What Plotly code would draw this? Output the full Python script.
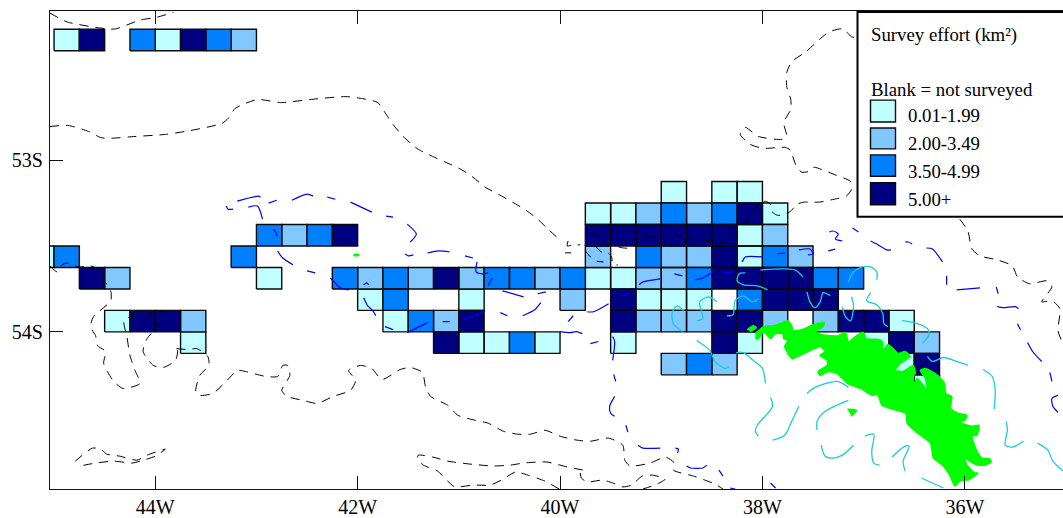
import plotly.graph_objects as go

# ---------- survey effort grid ----------
# (south latitude, north latitude, west longitude of first cell, effort classes)
# L 0.01-1.99, M 2.00-3.49, B 3.50-4.99, D 5.00+, . not surveyed
effort_rows = [
    (-52.364, -52.239, -45.00, "LD.BLDBM"),
    (-53.250, -53.125, -39.00, "L.LL"),
    (-53.375, -53.250, -39.75, "LLMBMBDL"),
    (-53.500, -53.375, -43.00, "BMBD"),
    (-53.500, -53.375, -39.75, "DDDDDDLM"),
    (-53.625, -53.500, -45.25, "LB"),
    (-53.625, -53.500, -43.25, "B"),
    (-53.625, -53.500, -39.75, "M.BMMDLBM"),
    (-53.750, -53.625, -44.75, "DM"),
    (-53.750, -53.625, -43.00, "L"),
    (-53.750, -53.625, -42.25, "BMBMDMBBMBLLMMBDDDDBB"),
    (-53.875, -53.750, -42.00, "LB..L...M.DLLL.BDDD"),
    (-54.000, -53.875, -44.50, "LDDM"),
    (-54.000, -53.875, -41.75, "LBMD"),
    (-54.000, -53.875, -39.50, "DMMMDDM.MDDL"),
    (-54.125, -54.000, -43.75, "L"),
    (-54.125, -54.000, -41.25, "DLLBL"),
    (-54.125, -54.000, -39.50, "L"),
    (-54.125, -54.000, -38.50, "DL"),
    (-54.125, -54.000, -37.00, "LDM"),
    (-54.250, -54.125, -39.00, "MBM"),
    (-54.250, -54.125, -36.75, "LD"),
    (-54.375, -54.250, -36.50, "L"),
]
class_codes = ["L", "M", "B", "D"]
class_labels = ["0.01-1.99", "2.00-3.49", "3.50-4.99", "5.00+"]
class_colors = ["#BFFFFF", "#80C8FF", "#0080FF", "#000080"]

x_ticks = [-44, -42, -40, -38, -36]
x_labels = ["44W", "42W", "40W", "38W", "36W"]
y_ticks = [-54, -53]
y_labels = ["54S", "53S"]

# ---------- 200 m style contour (dashed black) ----------
black_lon = [
    -45.04,-44.87,-44.54,-44.40,-44.15,-43.98,-43.82,None,
    -45.04,-44.86,-44.66,-44.54,-44.46,-44.20,-43.90,-43.65,-43.34,-43.28,-43.21,-42.99,-42.76,-42.47,-42.12,-41.95,-41.80,-41.73,-41.65,-41.55,-41.40,-41.26,-41.13,-40.98,-40.86,-40.74,-40.61,-40.47,-40.34,-40.22,-40.12,-40.00,None,
    -39.92,-39.93,-39.87,-39.80,None,
    -39.95,-39.89,None,
    -39.70,-39.65,-39.59,-39.51,-39.42,-39.37,-39.29,-39.26,-39.22,-39.16,-39.07,-38.99,-38.92,-38.86,-38.81,-38.74,-38.62,-38.57,-38.44,-38.37,-38.36,-38.32,-38.24,-38.17,-38.12,-38.09,-38.04,-37.97,-37.92,-37.91,-37.86,-37.79,-37.72,-37.66,-37.59,-37.44,-37.29,-37.17,-37.12,-37.13,-37.27,-37.42,-37.49,-37.54,-37.61,-37.66,-37.70,-37.71,-37.77,-37.99,-38.12,-38.22,-38.17,-38.04,-37.81,-37.76,-37.79,-37.72,-37.72,-37.76,-37.76,-37.71,-37.57,-37.44,-37.34,-37.22,-37.17,-37.12,-36.90,None,
    -39.75,-39.70,-39.65,-39.57,None,
    -39.65,-39.59,-39.54,-39.49,-39.48,-39.43,None,
    -36.05,-35.97,-35.93,-35.85,-35.68,-35.53,-35.48,-35.36,-35.19,-35.14,-35.24,-35.14,-35.06,-35.08,-35.04,None,
    -45.04,-44.97,-44.92,-44.87,-44.76,-44.64,-44.59,-44.54,-44.44,-44.44,-44.61,-44.64,-44.59,-44.57,-44.49,-44.51,-44.41,-44.32,-44.15,-44.20,-44.25,-44.28,-44.31,-44.25,-44.08,-43.93,-43.90,-44.00,-44.08,-44.12,-44.02,-43.92,-43.80,-43.78,-43.82,-43.67,-43.59,-43.48,-43.47,-43.56,-43.60,-43.56,-43.43,-43.29,-43.19,-43.11,-42.91,-42.79,-42.74,-42.69,-42.67,-42.75,-42.70,-42.54,-42.40,-42.24,-42.07,-42.02,-42.09,-41.97,-41.86,-41.76,-41.58,-41.48,-41.36,-41.33,-41.28,-41.11,-41.01,-40.84,-40.71,-40.56,-40.42,-40.29,-40.15,-40.00,-39.83,-39.70,-39.52,-39.38,-39.36,-39.31,-39.11,-38.96,-38.88,-38.88,-38.68,-38.47,-38.39,None,
    -44.79,-44.62,-44.54,-44.48,-44.35,-44.18,-44.08,-43.90,-44.00,-44.15,-44.23,-44.41,-44.59,-44.74,None,
    -40.01,-40.15,-40.32,-40.44,-40.56,-40.69,-40.86,-41.04,-41.11,-41.21,-41.35,-41.41,-41.40,-41.26,-41.11,-40.89,-40.66,-40.49,-40.36,-40.13,-39.93,-39.77,None,
    -39.80,-39.79,-39.73,-39.58,-39.48,-39.38,-39.29,-39.19,-39.09,-38.96,-39.04,-39.18,
]
black_lat = [
    -52.145,-52.197,-52.232,-52.238,-52.186,-52.169,-52.140,None,
    -52.805,-52.799,-52.834,-52.869,-52.874,-52.863,-52.851,-52.828,-52.787,-52.758,-52.700,-52.648,-52.666,-52.648,-52.631,-52.643,-52.666,-52.724,-52.793,-52.863,-52.938,-52.979,-53.013,-53.054,-53.100,-53.158,-53.199,-53.245,-53.291,-53.344,-53.402,-53.465,None,
    -53.471,-53.500,-53.494,-53.494,None,
    -53.540,-53.540,None,
    -53.430,-53.430,-53.459,-53.494,-53.506,-53.512,-53.512,-53.494,-53.449,-53.437,-53.459,-53.477,-53.453,-53.437,-53.443,-53.459,-53.465,-53.465,-53.477,-53.477,-53.443,-53.402,-53.385,-53.356,-53.332,-53.303,-53.257,-53.240,-53.257,-53.297,-53.320,-53.320,-53.297,-53.257,-53.245,-53.245,-53.228,-53.210,-53.170,-53.124,-53.089,-53.054,-53.042,-53.066,-53.071,-53.042,-52.979,-52.950,-52.927,-52.932,-52.909,-52.851,-52.810,-52.863,-52.880,-52.863,-52.782,-52.706,-52.648,-52.573,-52.492,-52.428,-52.370,-52.300,-52.254,-52.237,-52.254,-52.283,-52.300,None,
    -53.529,-53.564,-53.587,-53.593,None,
    -53.500,-53.535,-53.535,-53.564,-53.605,-53.611,None,
    -53.344,-53.413,-53.518,-53.558,-53.581,-53.616,-53.680,-53.720,-53.703,-53.738,-53.825,-53.819,-53.865,-53.992,-54.056,None,
    -53.616,-53.651,-53.610,-53.599,-53.622,-53.616,-53.628,-53.674,-53.761,-53.819,-53.911,-53.970,-54.022,-54.080,-54.114,-54.184,-54.288,-54.329,-54.300,-54.224,-54.137,-54.027,-53.940,-53.911,-53.906,-53.877,-53.894,-53.981,-54.039,-54.114,-54.195,-54.207,-54.166,-54.108,-54.097,-54.103,-54.097,-54.143,-54.195,-54.253,-54.346,-54.369,-54.358,-54.282,-54.224,-54.230,-54.259,-54.259,-54.195,-54.195,-54.253,-54.340,-54.375,-54.398,-54.416,-54.375,-54.340,-54.282,-54.224,-54.195,-54.213,-54.277,-54.219,-54.207,-54.236,-54.317,-54.375,-54.427,-54.485,-54.514,-54.531,-54.578,-54.595,-54.595,-54.572,-54.607,-54.630,-54.636,-54.618,-54.659,-54.746,-54.780,-54.763,-54.728,-54.757,-54.804,-54.839,-54.885,-54.914,None,
    -54.752,-54.676,-54.682,-54.711,-54.723,-54.746,-54.717,-54.682,-54.723,-54.752,-54.763,-54.752,-54.763,-54.780,None,
    -54.914,-54.868,-54.833,-54.815,-54.856,-54.891,-54.891,-54.902,-54.868,-54.810,-54.775,-54.734,-54.717,-54.728,-54.752,-54.769,-54.780,-54.775,-54.763,-54.757,-54.786,-54.804,None,
    -54.821,-54.850,-54.873,-54.862,-54.879,-54.902,-54.891,-54.839,-54.833,-54.856,-54.885,-54.914,
]

# ---------- deeper contour fragments (blue) ----------
blue_lon = [
    -43.30,-43.28,-43.23,None,-43.19,-42.98,-42.96,None,-43.08,-42.99,-42.94,None,-42.88,-42.80,None,-42.65,-42.50,-42.44,None,-42.30,-42.22,None,-42.07,-41.86,None,-41.72,-41.65,None,-41.51,-41.42,-41.48,None,
    -42.83,-42.79,None,-42.79,-42.75,-42.64,None,-42.50,-42.42,None,-42.27,-42.17,-42.09,None,-41.53,-41.50,-41.45,None,-41.31,-41.20,-41.09,None,-40.94,-40.86,None,-40.82,-40.83,-40.77,-40.71,None,-40.67,-40.71,None,
    -41.94,-41.91,-41.89,None,-41.94,-41.90,-41.85,-41.82,None,-40.57,-40.36,None,-40.22,-40.14,None,-40.37,-40.25,-40.19,None,-40.59,-40.52,None,-40.95,-40.74,None,-41.16,-41.09,None,-41.73,-41.65,None,-41.51,-41.31,None,
    -39.92,-39.87,None,-39.73,-39.67,-39.52,None,-40.00,-39.90,-39.84,-39.78,None,-39.70,-39.62,None,-39.22,-39.18,-39.01,None,-38.87,-38.79,None,-38.66,-38.59,-38.49,None,-38.38,-38.29,None,-39.39,-39.31,None,
    -38.20,-38.17,-38.00,None,-37.85,-37.78,None,-37.64,-37.53,-37.50,-37.55,None,-39.48,-39.46,-39.48,None,-39.47,-39.45,None,-39.46,-39.51,-39.50,-39.46,None,-39.35,-39.33,None,-39.23,-39.18,-39.01,None,-38.86,-38.83,-38.84,None,-38.75,-38.71,-38.59,-38.55,None,-38.43,-38.39,None,-38.32,-38.27,None,
    -37.34,-37.30,-37.25,-37.28,-37.21,None,-37.11,-37.05,None,-36.93,-36.87,-36.77,-36.73,None,-36.59,-36.56,-36.52,None,-36.38,-36.32,-36.22,None,-36.18,-36.18,None,-36.08,-35.85,None,-35.69,-35.67,None,-35.68,-35.62,-35.50,-35.47,None,-35.48,-35.45,None,-35.38,-35.33,-35.24,None,-35.16,-35.14,None,-35.08,-35.14,-35.13,-35.08,None,-37.35,-37.28,None,-37.92,-37.87,
]
blue_lat = [
    -53.268,-53.286,-53.286,None,-53.239,-53.210,-53.216,None,-53.274,-53.268,-53.344,None,-53.251,-53.234,None,-53.234,-53.199,-53.210,None,-53.216,-53.228,None,-53.245,-53.303,None,-53.326,-53.332,None,-53.373,-53.431,-53.477,None,
    -53.402,-53.442,None,-53.529,-53.564,-53.610,None,-53.645,-53.657,None,-53.686,-53.744,-53.755,None,-53.546,-53.558,-53.552,None,-53.541,-53.529,-53.535,None,-53.558,-53.570,None,-53.593,-53.651,-53.662,-53.657,None,-53.686,-53.732,None,
    -53.726,-53.715,-53.726,None,-53.801,-53.848,-53.877,-53.906,None,-53.761,-53.796,None,-53.778,-53.767,None,-53.906,-53.871,-53.830,None,-53.888,-53.906,None,-53.929,-53.877,None,-53.940,-53.940,None,-53.969,-53.987,None,-54.004,-53.946,None,
    -53.940,-53.906,None,-53.883,-53.883,-53.836,None,-53.998,-54.004,-53.998,-54.010,None,-54.068,-54.056,None,-53.726,-53.709,-53.691,None,-53.662,-53.674,None,-53.697,-53.686,-53.651,None,-53.657,-53.651,None,-53.790,-53.772,None,
    -53.593,-53.564,-53.564,None,-53.546,-53.541,None,-53.523,-53.518,-53.546,-53.552,None,-54.027,-54.056,-54.166,None,-54.247,-54.288,None,-54.375,-54.433,-54.473,-54.491,None,-54.543,-54.583,None,-54.659,-54.676,-54.676,None,-54.676,-54.682,-54.705,None,-54.780,-54.792,-54.792,-54.775,None,-54.804,-54.839,None,-54.908,-54.914,None,
    -53.419,-53.413,-53.431,-53.460,-53.471,None,-53.396,-53.419,None,-53.471,-53.489,-53.523,-53.523,None,-53.477,-53.477,-53.489,None,-53.512,-53.518,-53.593,None,-53.674,-53.726,None,-53.755,-53.744,None,-53.738,-53.778,None,-53.853,-53.859,-53.853,-53.865,None,-53.952,-53.987,None,-54.062,-54.114,-54.172,None,-54.236,-54.288,None,-54.369,-54.387,-54.433,-54.468,None,-53.529,-53.518,None,-54.879,-54.908,
]

# ---------- shelf contour fragments (cyan) ----------
cyan_lon = [
    -38.02,-37.68,-37.60,None,-38.17,-38.23,-38.25,-38.19,-38.05,-37.95,None,-38.35,-38.29,-38.27,-38.19,-38.10,-38.04,None,-37.56,-37.53,-37.48,-37.43,-37.40,-37.33,None,-37.15,-37.10,-37.01,-36.93,-36.87,-36.87,None,-37.12,-37.10,-37.13,-37.18,-37.21,None,-36.93,-36.97,-36.87,-36.81,-36.80,-36.76,None,-36.62,-36.47,-36.37,-36.35,-36.42,None,-36.37,-36.32,-36.21,-36.08,-35.97,None,-35.82,-35.73,-35.70,-35.71,None,-35.59,-35.58,-35.60,-35.53,-35.42,None,-35.28,-35.18,-35.13,-35.03,None,
    -38.79,-38.88,-38.89,-38.84,-38.78,None,-38.65,-38.59,-38.62,-38.53,-38.45,None,-38.65,-38.52,-38.47,-38.37,-38.33,None,-38.26,-38.19,-38.09,-38.00,-37.97,None,-37.92,-37.90,-38.05,-38.07,-38.04,None,-37.64,-37.71,-37.78,-37.90,None,-37.56,-37.48,-37.26,-37.15,None,-37.15,-37.38,-37.46,-37.46,None,-37.42,-37.38,-37.30,-37.21,-37.10,None,-36.99,-36.90,-36.92,-36.90,-36.84,None,-36.72,-36.59,-36.55,-36.61,-36.59,None,-36.43,-36.21,
]
cyan_lat = [
    -53.639,-53.639,-53.680,None,-53.657,-53.662,-53.703,-53.726,-53.732,-53.755,None,-53.906,-53.900,-53.819,-53.790,-53.825,-53.807,None,-53.767,-53.825,-53.859,-53.825,-53.772,-53.790,None,-53.709,-53.651,-53.622,-53.622,-53.651,-53.697,None,-53.796,-53.848,-53.935,-53.911,-53.853,None,-53.772,-53.819,-53.842,-53.894,-53.952,-53.969,None,-53.935,-53.952,-53.981,-54.010,-54.068,None,-54.143,-54.172,-54.149,-54.172,-54.195,None,-54.219,-54.259,-54.340,-54.450,None,-54.520,-54.572,-54.659,-54.670,-54.636,None,-54.647,-54.688,-54.752,-54.810,None,
    -53.998,-53.952,-53.883,-53.848,-53.877,None,-53.935,-53.923,-53.825,-53.796,-53.825,None,-54.050,-54.108,-54.172,-54.213,-54.201,None,-54.120,-54.120,-54.166,-54.213,-54.300,None,-54.381,-54.433,-54.543,-54.578,-54.607,None,-54.433,-54.520,-54.601,-54.630,None,-54.358,-54.323,-54.288,-54.323,None,-54.398,-54.462,-54.520,-54.572,None,-54.659,-54.723,-54.734,-54.717,-54.659,None,-54.607,-54.595,-54.694,-54.763,-54.775,None,-54.728,-54.665,-54.665,-54.752,-54.810,None,-54.850,-54.908,
]

# ---------- land (green) ----------
land_lon = [
    -38.07,-37.99,-37.89,-37.80,-37.75,-37.71,-37.70,-37.61,-37.50,-37.39,-37.40,-37.48,-37.41,-37.33,-37.25,-37.18,-37.16,-37.15,-37.08,-37.00,-36.98,-36.84,-36.81,-36.81,-36.76,-36.71,-36.66,-36.59,-36.54,-36.64,-36.69,-36.61,-36.51,-36.49,-36.51,-36.51,-36.47,-36.37,-36.39,-36.44,-36.39,-36.27,-36.20,-36.19,-36.13,-36.14,-36.07,-35.98,-36.00,-36.05,-35.93,-35.86,-35.88,-35.93,-35.88,-35.83,-35.75,-35.74,-35.80,-35.88,-35.97,-36.00,-35.98,-35.90,-35.87,-35.97,-36.00,-36.05,-36.10,-36.15,-36.22,-36.31,-36.34,-36.49,-36.57,-36.58,-36.67,-36.82,-36.86,-36.92,-37.03,-37.16,-37.26,-37.35,-37.43,-37.45,-37.36,-37.36,-37.43,-37.38,-37.43,-37.63,-37.71,-37.78,-37.75,-37.79,-37.80,-37.87,-37.92,-37.99,-38.04,-38.07,None,
    -38.15,-38.09,-38.06,-38.12,None,
    -37.16,-37.07,-37.12,None,
    -42.04,-41.99,-41.99,-42.04,
]
land_lat = [
    -54.010,-53.969,-53.964,-53.946,-53.935,-53.964,-53.993,-53.987,-53.958,-53.946,-53.969,-53.998,-54.016,-54.022,-54.022,-54.004,-54.039,-54.062,-54.027,-54.004,-54.039,-54.045,-54.062,-54.108,-54.074,-54.097,-54.126,-54.114,-54.143,-54.184,-54.224,-54.230,-54.195,-54.242,-54.253,-54.311,-54.271,-54.340,-54.271,-54.224,-54.213,-54.253,-54.300,-54.358,-54.375,-54.445,-54.473,-54.485,-54.514,-54.526,-54.549,-54.543,-54.601,-54.607,-54.694,-54.734,-54.740,-54.757,-54.775,-54.775,-54.746,-54.734,-54.775,-54.821,-54.821,-54.862,-54.862,-54.868,-54.896,-54.833,-54.775,-54.734,-54.647,-54.578,-54.531,-54.473,-54.456,-54.427,-54.363,-54.369,-54.329,-54.300,-54.242,-54.230,-54.253,-54.230,-54.195,-54.166,-54.137,-54.114,-54.085,-54.137,-54.155,-54.085,-54.050,-54.039,-54.010,-54.010,-54.039,-53.998,-54.039,-54.039,None,
    -53.987,-53.964,-53.976,-53.998,None,
    -54.450,-54.456,-54.491,None,
    -53.549,-53.549,-53.556,-53.556,
]

CELL_WIDTH = 0.25

fig = go.Figure()

for code, color in zip(class_codes, class_colors):
    xs, ys = [], []
    for south, north, west, classes in effort_rows:
        for i, c in enumerate(classes):
            if c == code:
                w = west + i * CELL_WIDTH
                e = w + CELL_WIDTH
                xs += [w, e, e, w, w, None]
                ys += [south, south, north, north, south, None]
    fig.add_trace(go.Scatter(x=xs, y=ys, mode="lines", fill="toself", fillcolor=color,
                             line=dict(color="#0a0a0a", width=1.4), hoverinfo="skip"))

fig.add_trace(go.Scatter(x=black_lon, y=black_lat, mode="lines",
                         line=dict(color="#000000", width=1, dash="9px,7px", shape="spline", smoothing=0.6),
                         hoverinfo="skip"))
fig.add_trace(go.Scatter(x=blue_lon, y=blue_lat, mode="lines",
                         line=dict(color="#0000FF", width=1.2, shape="spline", smoothing=0.7), hoverinfo="skip"))
fig.add_trace(go.Scatter(x=cyan_lon, y=cyan_lat, mode="lines",
                         line=dict(color="#1CCCD8", width=1.3, shape="spline", smoothing=0.8), hoverinfo="skip"))
fig.add_trace(go.Scatter(x=land_lon, y=land_lat, mode="lines", fill="toself", fillcolor="#00FF00",
                         line=dict(color="#00FF00", width=1.5, shape="spline", smoothing=0.5), hoverinfo="skip"))

W, H = 1063, 518
L, R, T, B = 50, 1063, 11, 491
px = lambda x: (x - L) / (R - L)
py = lambda y: (B - y) / (B - T)

shapes = [dict(type="rect", xref="paper", yref="paper", layer="above",
               x0=px(857.5), x1=px(1070), y0=py(217.5), y1=py(12),
               fillcolor="white", line=dict(color="black", width=2))]
swatch_y = [(100.5, 122.5), (128.5, 149.5), (155.5, 177), (183.5, 205.5)]
for (y0, y1), color in zip(swatch_y, class_colors):
    shapes.append(dict(type="rect", xref="paper", yref="paper", layer="above",
                       x0=px(870.5), x1=px(895.5), y0=py(y1), y1=py(y0),
                       fillcolor=color, line=dict(color="#0a0a0a", width=1.4)))

serif = "Liberation Serif, Times New Roman, serif"
annos = []
def label(text, x, y):
    annos.append(dict(text=text, xref="paper", yref="paper", x=px(x), y=py(y),
                      xanchor="left", yanchor="middle", showarrow=False,
                      font=dict(family=serif, size=18.8, color="#000000"),
                      borderpad=0, borderwidth=0))
label("Survey effort (km²)", 871, 35)
label("Blank = not surveyed", 871, 90)
for text, y in zip(class_labels, [116, 144, 172, 200]):
    label(text, 908, y)

fig.update_layout(
    width=W, height=H, showlegend=False, plot_bgcolor="white", paper_bgcolor="white",
    margin=dict(l=L, r=W - R, t=T, b=H - B, pad=0),
    shapes=shapes, annotations=annos,
    xaxis=dict(range=[-45.04, -35.03], tickmode="array", tickvals=x_ticks, ticktext=x_labels,
               ticks="inside", ticklen=13, tickwidth=1, tickcolor="#111111",
               showline=True, linecolor="#111111", linewidth=1.3, mirror="allticks",
               showgrid=False, zeroline=False, tickfont=dict(family=serif, size=20, color="#000000")),
    yaxis=dict(range=[-54.914, -52.133], tickmode="array", tickvals=y_ticks, ticktext=y_labels,
               ticks="inside", ticklen=13, tickwidth=1, tickcolor="#111111",
               showline=True, linecolor="#111111", linewidth=1.3, ticklabelstandoff=2,
               showgrid=False, zeroline=False, tickfont=dict(family=serif, size=20, color="#000000")),
)
fig.write_html("out.html", config={"displayModeBar": False},
               post_script="document.body.style.margin='0';")
